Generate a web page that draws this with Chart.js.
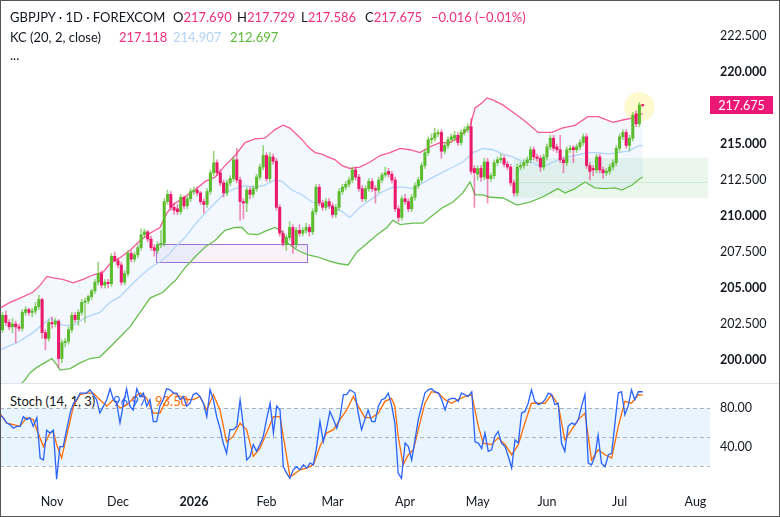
<!DOCTYPE html>
<html>
<head>
<meta charset="utf-8">
<title>GBPJPY 1D</title>
<script src="https://cdn.jsdelivr.net/npm/chart.js@4.4.1/dist/chart.umd.min.js"></script>
<style>
  body { margin:0; background:#fff; font-family: Lato, "Open Sans", sans-serif; }
  #wrap { position:relative; width:780px; height:517px; overflow:hidden; background:#fff; }
  #pc { position:absolute; left:0; top:0; }
  #sc { position:absolute; left:0; top:384px; }
  .row { position:absolute; left:0; height:16px; font-size:13px; line-height:16px; color:#131722; white-space:nowrap; }
  .row span.t { position:absolute; top:0; }
  .pk { color:#ef2f7f; }
  .lb { color:#b3d3f8; }
  .gr { color:#5cb83a; }
  .bl { color:#2962ff; }
  .or { color:#ff6d00; }
  #divider { position:absolute; left:0; top:383px; width:780px; height:1px; background:#e0e3eb; }
  #frame { position:absolute; left:0; top:0; width:778px; height:515px; border:1px solid #555; pointer-events:none; }
</style>
</head>
<body>
<div id="wrap">
  <!-- stoch legend sits under the canvas, so the lines cross over it -->
  <div class="row" style="top:393px">
    <span class="t" style="left:10px">Stoch (14, 1, 3)</span>
    <span class="t bl" style="left:113px">96.97</span>
    <span class="t or" style="left:155px">93.50</span>
  </div>
  <canvas id="pc" width="780" height="383"></canvas>
  <div id="divider"></div>
  <canvas id="sc" width="780" height="133"></canvas>

  <div class="row" style="top:9px">
    <span class="t" style="left:10px">GBPJPY · 1D · FOREXCOM</span>
    <span class="t" style="left:173px">O<span class="pk">217.690</span></span>
    <span class="t" style="left:237px">H<span class="pk">217.729</span></span>
    <span class="t" style="left:301px">L<span class="pk">217.586</span></span>
    <span class="t" style="left:365px">C<span class="pk">217.675</span></span>
    <span class="t pk" style="left:431px">−0.016 (−0.01%)</span>
  </div>
  <div class="row" style="top:29px">
    <span class="t" style="left:10px">KC (20, 2, close)</span>
    <span class="t pk" style="left:119px">217.118</span>
    <span class="t lb" style="left:173px">214.907</span>
    <span class="t gr" style="left:230px">212.697</span>
  </div>
  <div class="row" style="top:47px">
    <span class="t" style="left:10px">...</span>
  </div>
  <div id="frame"></div>
</div>

<script>
// daily candles, bar 0 = 13 Oct 2025
var opens = [
  202.1,203.1,202.6,202.3,202.5,202.3,202.2,203.3,203.5,203.3,
  203.4,203.7,204.2,201.9,201.5,202.6,202.5,202.7,200.1,201.2,
  201.3,202.1,203.1,202.8,203.3,204.0,204.1,204.4,204.8,205.4,
  206.0,205.2,205.4,205.3,207.2,206.9,206.6,205.4,206.0,207.4,
  207.0,207.3,207.8,208.7,208.9,208.4,207.8,207.6,208.0,208.1,
  211.0,211.5,210.6,210.5,210.3,211.3,210.7,211.2,211.7,211.8,
  211.6,211.0,210.8,211.7,213.0,213.7,213.0,212.3,211.6,212.3,
  212.6,213.9,212.5,211.0,210.9,211.8,211.5,211.9,212.7,213.4,
  214.2,212.6,214.1,213.8,210.6,208.8,208.0,208.5,209.2,208.0,
  209.0,208.8,209.0,209.2,208.9,210.3,212.0,210.9,210.6,211.0,
  210.7,210.1,210.6,211.7,212.0,212.2,212.5,213.2,212.7,211.9,
  211.2,211.9,212.4,211.9,211.8,212.5,212.85,213.1,212.9,212.5,
  210.5,209.9,211.2,211.0,210.5,211.3,212.1,212.5,213.5,214.4,
  215.3,215.4,215.7,215.8,214.5,214.9,215.3,215.4,215.6,215.1,
  215.8,216.0,216.2,213.3,212.9,213.3,212.7,213.75,212.6,212.8,
  213.7,213.9,214.0,213.6,213.4,212.3,211.6,213.4,213.5,213.7,
  213.9,214.6,214.1,214.0,213.4,214.1,214.8,215.4,214.8,214.6,
  213.9,213.7,214.6,214.75,214.6,214.8,215.1,215.5,213.5,213.3,
  213.2,214.1,213.2,213.0,213.1,213.4,213.7,214.7,215.5,215.8,
  214.9,215.4,217.1,216.4,217.69
];
var highs = [
  203.3,203.4,202.8,202.9,202.7,202.5,203.5,203.7,203.6,203.6,
  204.0,204.5,204.3,202.1,202.8,203.0,202.9,202.8,201.4,201.5,
  202.3,203.3,203.3,203.5,204.2,204.3,204.5,204.9,205.6,206.8,
  206.2,205.6,205.6,207.4,207.5,207.1,206.8,206.2,207.6,207.6,
  207.5,208.0,209.1,209.1,209.0,208.6,208.0,208.2,209.0,211.2,
  211.8,211.7,210.9,210.8,211.5,211.4,211.4,211.9,212.0,212.0,
  211.7,211.2,211.9,213.2,214.5,213.9,213.2,212.5,212.5,212.8,
  214.1,214.7,212.7,211.2,212.0,212.0,212.1,212.9,213.6,214.9,
  214.4,214.4,214.3,214.0,210.8,209.0,208.7,209.6,209.4,209.2,
  209.4,209.2,209.5,209.4,210.5,212.2,212.2,211.1,211.2,211.2,
  210.9,210.8,211.9,212.2,212.4,212.7,213.4,213.4,212.9,212.1,
  212.1,212.6,212.6,212.1,212.7,213.0,213.4,213.3,213.1,212.7,
  210.7,211.4,211.5,211.2,211.5,212.3,212.7,213.7,214.6,215.5,
  215.7,216.1,216.0,216.0,215.1,215.5,215.7,215.9,215.8,216.0,
  216.2,216.4,216.8,213.5,213.5,213.5,214.0,214.0,213.0,213.9,
  214.1,214.3,214.2,213.8,213.6,212.5,213.6,213.7,213.9,214.1,
  214.8,214.8,214.3,214.2,214.3,215.0,215.6,215.6,215.0,215.6,
  214.1,214.8,214.9,214.9,215.0,215.3,215.7,215.7,213.7,213.5,
  214.3,214.3,213.4,213.3,213.6,213.9,214.9,215.7,216.0,216.0,
  215.6,217.2,217.3,217.9,217.729
];
var lows = [
  201.9,202.4,202.1,201.9,201.2,202.0,202.0,203.1,203.1,203.0,
  203.2,203.5,201.5,200.7,201.3,202.2,202.3,199.5,199.8,200.9,
  201.1,201.9,202.6,202.4,203.1,202.6,203.9,204.2,204.6,205.2,
  205.0,205.0,205.0,205.1,206.8,206.4,205.2,205.2,205.8,206.8,
  206.8,207.1,207.6,208.5,208.2,207.6,207.2,207.4,207.8,207.9,
  210.8,210.4,210.1,210.1,210.1,210.5,210.5,211.0,211.5,211.4,
  210.8,210.2,210.6,211.5,212.8,212.8,212.1,211.3,211.4,212.1,
  212.4,212.3,209.7,209.8,210.3,211.2,211.3,211.7,212.5,213.2,
  212.4,212.4,213.6,210.4,208.6,207.9,207.6,208.3,207.4,207.8,
  208.6,208.6,208.8,208.6,208.7,210.1,210.7,210.4,210.4,210.5,
  209.9,209.9,210.4,211.5,211.8,212.0,212.3,212.5,211.7,211.0,
  211.0,211.7,211.7,210.9,211.6,212.3,212.7,212.7,212.3,210.3,
  209.6,209.7,210.8,210.3,210.3,211.1,211.9,212.3,213.3,214.2,
  215.0,215.2,215.5,214.0,214.3,214.7,215.1,215.2,214.9,214.9,
  215.6,215.8,212.9,210.6,212.5,212.4,212.5,210.9,212.4,212.6,
  213.5,213.7,213.4,213.2,212.1,211.4,211.4,213.2,213.3,213.5,
  213.7,213.9,213.8,213.1,213.2,213.9,214.6,214.5,214.4,213.7,
  213.0,213.5,214.4,213.7,214.4,214.6,214.9,213.3,212.5,212.8,
  213.0,213.0,212.6,212.8,212.9,213.2,213.5,214.5,215.3,214.7,
  214.5,215.2,216.2,216.2,217.586
];
var closes = [
  203.1,202.6,202.3,202.5,202.3,202.2,203.3,203.5,203.3,203.4,
  203.7,204.2,201.9,201.5,202.6,202.5,202.7,200.1,201.2,201.3,
  202.1,203.1,202.8,203.3,204.0,204.1,204.4,204.8,205.4,206.0,
  205.2,205.4,205.3,207.2,206.9,206.6,205.4,206.0,207.4,207.0,
  207.3,207.8,208.7,208.9,208.4,207.8,207.6,208.0,208.1,211.0,
  211.5,210.6,210.4,210.3,211.3,210.7,211.2,211.7,211.8,211.6,
  211.0,210.8,211.7,213.0,213.7,213.0,212.3,211.6,212.3,212.6,
  213.9,212.5,211.0,210.9,211.8,211.5,211.9,212.7,213.4,214.2,
  212.6,214.1,213.8,210.6,208.8,208.1,208.5,209.2,208.0,209.0,
  208.8,209.0,209.2,208.9,210.3,212.0,210.9,210.6,211.0,210.7,
  210.1,210.6,211.7,212.0,212.2,212.5,213.2,212.7,211.9,211.2,
  211.9,212.4,211.9,211.8,212.5,212.85,213.0,212.9,212.5,210.5,
  209.9,211.2,211.0,210.5,211.3,212.1,212.5,213.5,214.4,215.3,
  215.4,215.75,215.8,214.5,214.9,215.3,215.5,215.6,215.1,215.8,
  216.0,216.2,213.1,213.0,213.3,212.7,213.75,212.6,212.8,213.7,
  213.9,214.0,213.6,213.4,212.3,211.6,213.4,213.5,213.7,213.9,
  214.6,214.1,214.0,213.4,214.1,214.8,215.4,214.7,214.6,213.9,
  213.7,214.6,214.7,214.6,214.8,215.1,215.5,213.5,213.1,213.2,
  214.1,213.2,213.0,213.1,213.4,213.7,214.7,215.5,215.8,214.9,
  215.4,217.0,216.4,217.7,217.675
];

// Keltner channel (20, 2, close) as [bar, value]
var kcUpper = [
  [-0.8,203.6],[2.3,204.0],[5.3,204.3],[9.2,204.7],[11.4,205.2],[13.5,205.8],[15.3,205.7],
  [18.3,205.6],[21.4,205.35],[24.4,205.6],[27.4,205.9],[30.5,206.1],[32.6,206.7],[35.6,207.1],
  [38.6,207.6],[41.7,208.3],[44.7,208.8],[47.7,209.2],[49.8,210.2],[51.7,210.8],[53.8,211.1],
  [58.3,211.8],[61.4,212.4],[64.4,212.7],[67.4,213.5],[70.5,214.2],[73.5,215.1],[76.5,215.35],
  [79.5,215.4],[82.6,216.0],[85.0,216.3],[87.1,216.1],[90.8,215.3],[92.6,214.8],[94.7,214.4],
  [96.8,214.3],[98.6,214.1],[100.8,213.9],[102.9,213.5],[105.3,213.3],[108.3,213.4],[111.4,213.75],
  [114.4,214.2],[117.4,214.4],[120.5,214.7],[123.5,214.6],[126.5,214.4],[129.5,214.8],[132.6,215.1],
  [135.6,215.1],[138.6,215.5],[141.7,216.2],[143.2,217.5],[145.3,217.85],[146.8,218.2],[148.6,218.06],
  [151.7,217.7],[154.7,217.2],[157.7,216.7],[159.8,216.3],[162.3,215.8],[166.5,215.8],[169.5,216.1],
  [173.5,216.3],[177.4,216.9],[180.5,216.9],[185.0,216.5],[188.6,216.7],[190.8,216.8],[194,217.118]
];
var kcBasis = [
  [-0.8,200.7],[4.4,201.2],[9.2,201.9],[14.4,202.9],[18.3,202.4],[21.4,202.4],[25.6,203.0],
  [29.5,203.3],[32.6,204.0],[35.6,204.4],[38.6,205.1],[41.7,205.8],[44.7,206.4],[47.7,206.8],
  [50.8,207.4],[52.3,207.85],[55.3,208.5],[58.3,209.4],[61.4,210.2],[64.4,210.9],[67.4,211.6],
  [70.5,211.9],[73.5,212.1],[76.5,212.0],[79.5,212.15],[82.6,212.5],[84.7,212.4],[87.7,211.8],
  [90.8,211.46],[93.8,210.97],[96.8,210.76],[99.8,210.6],[102.9,210.3],[105.3,209.9],[108.3,210.6],
  [112.3,211.25],[115.3,211.7],[118.3,212.0],[121.4,212.0],[124.4,211.9],[127.4,212.3],[130.5,212.7],
  [133.5,213.05],[136.5,213.4],[139.5,213.75],[142.6,214.4],[145.6,214.7],[148.6,214.6],[151.7,214.3],
  [154.7,214.1],[157.7,213.75],[160.5,213.7],[163.5,213.4],[166.5,213.7],[169.5,214.0],[173.5,214.2],
  [177.4,214.4],[180.5,214.4],[183.5,214.3],[186.5,214.4],[189.5,214.5],[192.6,214.85],[194,214.907]
];
var kcLower = [
  [-0.8,197.6],[3.5,197.9],[6.8,198.6],[8.3,199.1],[10.5,199.5],[13.5,199.9],[15.0,200.1],
  [16.5,199.65],[17.4,199.3],[20.5,199.4],[23.5,199.8],[26.5,200.1],[29.5,200.2],[32.6,200.9],
  [35.6,201.6],[38.6,202.3],[41.7,203.3],[44.7,204.3],[48.6,204.7],[51.7,205.4],[52.3,205.5],
  [55.3,206.4],[58.3,207.15],[61.4,207.85],[64.4,208.3],[67.4,209.0],[70.5,209.2],[72.6,209.2],
  [74.4,208.75],[77.4,208.7],[80.2,209.0],[82.6,209.2],[84.7,208.9],[86.5,208.1],[89.5,207.6],
  [92.6,207.3],[95.6,207.15],[98.6,206.9],[101.7,206.7],[104.7,206.6],[105.3,206.8],[107.4,207.5],
  [110.5,208.1],[113.5,208.7],[116.5,209.2],[118.3,209.7],[120.5,209.4],[124.4,209.5],[127.4,209.5],
  [130.5,210.07],[133.5,210.6],[136.5,210.97],[139.5,211.6],[141.7,212.36],[143.2,211.46],[145.6,211.46],
  [147.7,211.3],[151.7,211.25],[155.9,210.76],[159.8,210.97],[163.5,211.3],[168.3,211.9],[170.5,211.6],
  [173.5,211.9],[176.5,212.36],[179.5,211.95],[182.6,211.9],[185.6,211.95],[187.7,211.8],[190.8,212.15],
  [193.2,212.6],[194,212.697]
];

// Stoch (14, 1, 3): %K and %D as [bar, value]
var stochK = [
  [-0.8,73],[0.3,69.6],[1.3,64.4],[2.3,62.7],[3.3,59],[4.3,61],[5.3,61],[6.3,71],[7.3,68],[8.3,70],
  [9.3,61],[10.4,70],[11.4,28],[12.4,26],[13.4,57],[14.4,54],[15.4,57],[16.4,6],[17.4,40],[18.4,40],
  [19.4,57],[20.5,75],[21.5,85],[22.5,88.7],[23.5,95.6],[24.5,95.6],[25.5,95.6],[26.5,99],[27.5,94],[28.5,88.7],
  [29.5,75],[30.6,82],[31.6,88.7],[32.6,100],[33.6,88.7],[34.6,85],[35.6,64.4],[36.6,83],[37.6,100],[38.6,82],
  [39.6,78],[40.7,100],[41.7,92],[42.7,95.6],[43.7,82],[44.7,88.7],[45.7,66],[46.7,66],[47.7,82],[48.7,88.7],
  [49.7,100],[50.8,99],[51.8,95.6],[52.8,95.6],[53.8,88.7],[54.8,92],[55.8,82],[56.8,85],[57.8,94],[58.8,95.6],
  [59.8,92],[60.9,85],[61.9,71],[62.9,99],[63.9,88.7],[64.9,71],[65.9,59],[66.9,43.6],[67.9,33],[68.9,57.5],
  [69.9,57.5],[71.0,61],[72.0,88.7],[73.0,61],[74.0,26],[75.0,29.7],[76.0,42],[77.0,35],[78.0,42],[79.0,50],
  [80.0,68],[81.1,85],[82.1,54],[83.1,82],[84.1,78],[85.1,19],[86.1,12.4],[87.1,7],[88.1,15.8],[89.1,19],
  [90.1,15.8],[91.2,21],[92.2,17.6],[93.2,22.8],[94.2,21],[95.2,40],[96.2,66],[97.2,45],[98.2,59],[99.2,76.5],
  [100.3,68],[101.3,59],[102.3,71],[103.3,94],[104.3,94],[105.3,99],[106.8,95.6],[107.8,74.8],[108.8,57.5],[109.8,68],
  [110.8,78],[111.9,66],[112.9,66],[113.9,82],[114.9,88.7],[115.9,90],[116.9,95.6],[117.9,83],[118.9,64.4],[119.9,12.4],
  [120.9,7],[122.0,43.6],[123.0,40],[124.0,26],[125.0,47],[126.0,68],[127.0,82],[128.0,95.6],[129.0,99],[130.0,100],
  [131.0,97],[132.1,95.6],[133.1,88.7],[134.1,78],[135.1,88.7],[136.1,90],[137.1,90],[138.1,87],[139.1,95.6],[140.1,94],
  [141.1,92],[142.2,97],[143.2,45],[144.2,43.6],[145.2,38],[146.2,54],[147.2,35],[148.2,36.6],[149.2,50.5],[150.2,55.7],
  [151.2,43.6],[152.3,40],[153.3,29.7],[154.3,17.6],[155.3,47],[156.3,43.6],[157.3,74.8],[158.3,76.5],[159.3,85],[160.3,99],
  [161.3,87],[162.4,83.5],[163.4,85],[164.4,88.7],[165.4,95.6],[166.4,94],[167.4,83.5],[168.4,85],[169.4,43.6],[170.4,35],
  [171.4,61],[172.5,64.4],[173.5,62.7],[174.5,68],[175.5,82],[176.5,94],[177.5,22.8],[178.5,21],[179.5,29.7],[180.5,52],
  [181.5,22.8],[182.6,19],[183.6,31.5],[184.6,33],[185.6,64.4],[186.6,95.6],[187.6,97],[188.6,73],[189.6,82],[190.6,99],
  [191.6,88.7],[192.7,97],[194,96.97]
];
var stochD = [
  [-0.8,74.8],[1.3,64.4],[3.3,62.7],[5.3,61],[7.3,70],[9.3,68],[10.4,57.5],[12.4,40],[14.4,54],[15.4,55.7],
  [16.4,42],[17.9,28],[19.4,50.5],[21.5,82],[23.5,94],[25.5,95.6],[27.5,95.6],[29.5,88.7],[31.6,82],[33.6,88.7],
  [35.6,80],[37.6,83],[39.6,90],[41.7,95.6],[43.7,90],[45.7,74.8],[47.7,74.8],[49.7,88.7],[51.8,95.6],[53.8,92],
  [55.8,88.7],[57.8,88.7],[59.8,92],[61.9,78],[63.9,94],[65.9,78],[67.9,45],[69.9,50.5],[72.0,64.4],[74.0,57.5],
  [76.0,29.7],[78.0,38],[80.0,54],[82.1,71],[84.1,71],[86.1,29.7],[87.1,8.9],[88.1,10.6],[90.1,15.8],[92.2,17.6],
  [94.2,21],[96.2,40],[98.2,54],[100.3,57.5],[102.3,68],[104.3,78],[106.3,92],[107.8,82],[109.8,70],[111.9,70],
  [113.9,74.8],[115.9,87],[117.9,90],[118.9,82],[119.9,50.5],[121.4,21],[123.0,31.5],[124.5,36.6],[126.0,57.5],[128.0,85],
  [130.0,97],[132.1,95.6],[134.1,88.7],[136.1,85],[138.1,88.7],[140.1,92],[142.2,94],[144.2,61],[145.7,43.6],[148.2,42],
  [150.2,49],[152.3,42],[154.3,31.5],[156.3,42],[158.3,64.4],[160.3,85],[162.4,85],[164.4,85],[166.4,94],[168.4,83.5],
  [170.4,47],[172.5,57.5],[174.5,68],[176.5,74.8],[178.5,26],[180.5,36.6],[182.6,31.5],[184.6,28],[186.6,61],[188.6,87],
  [190.6,85],[192.7,94],[194,93.5]
];

// time axis: first trading day of each month, as bar index
var monthIdx    = [15, 35, 58, 80, 100, 122, 144, 165, 187, 210];
var monthLabels = ['Nov', 'Dec', '2026', 'Feb', 'Mar', 'Apr', 'May', 'Jun', 'Jul', 'Aug'];
var priceTicks  = [200, 202.5, 205, 207.5, 210, 212.5, 215, 220, 222.5];
var stochTicks  = [40, 80];

// drawings on the chart, in price / bar units
var boxPurple = { x0: 46.5, x1: 92.3, top: 208.03, bottom: 206.78 };
var boxGreen  = { x0: 154.7, x1: 213.8, top: 214.03, bottom: 211.25, mid: 212.36 };
var markBar = 193, markPrice = 217.57;
var lastClose = 217.675;

var X_MIN = -0.76, X_MAX = 214.4;
var UP = '#5cbc2e', DOWN = '#e91a6c';
var UP_WICK = 'rgba(92,188,46,0.6)', DOWN_WICK = 'rgba(233,26,108,0.5)';
var FONT = 'Lato, "Open Sans", sans-serif';
var TXT = '#131722';

Chart.defaults.font.family = FONT;

function toXY(list) {
  return list.map(function (p) { return { x: p[0], y: p[1] }; });
}
function candleColor(c, up, down) {
  var i = c.dataIndex;
  return closes[i] >= opens[i] ? up : down;
}
// keep the plot area flush with the canvas edges (no label overhang padding)
function noOverhang(axis) {
  axis.paddingTop = 0; axis.paddingBottom = 0;
  axis.paddingLeft = 0; axis.paddingRight = 0;
}

var priceDrawings = {
  id: 'priceDrawings',
  beforeDatasetsDraw: function (chart) {
    var ctx = chart.ctx, xs = chart.scales.x, ys = chart.scales.y, a = chart.chartArea;
    ctx.save();
    ctx.beginPath();
    ctx.rect(a.left, a.top, a.right - a.left, a.bottom - a.top);
    ctx.clip();

    // green zone
    var gx0 = xs.getPixelForValue(boxGreen.x0), gx1 = xs.getPixelForValue(boxGreen.x1);
    var gy0 = ys.getPixelForValue(boxGreen.top), gy1 = ys.getPixelForValue(boxGreen.bottom);
    ctx.fillStyle = 'rgba(76,175,80,0.11)';
    ctx.fillRect(gx0, gy0, gx1 - gx0, gy1 - gy0);
    var gm = Math.round(ys.getPixelForValue(boxGreen.mid)) + 0.5;
    ctx.strokeStyle = 'rgba(76,175,80,0.18)';
    ctx.lineWidth = 1;
    ctx.beginPath(); ctx.moveTo(gx0, gm); ctx.lineTo(gx1, gm); ctx.stroke();

    // purple box
    var px0 = Math.round(xs.getPixelForValue(boxPurple.x0)) + 0.5;
    var px1 = Math.round(xs.getPixelForValue(boxPurple.x1)) + 0.5;
    var py0 = Math.round(ys.getPixelForValue(boxPurple.top)) + 0.5;
    var py1 = Math.round(ys.getPixelForValue(boxPurple.bottom)) + 0.5;
    ctx.fillStyle = 'rgba(156,39,176,0.06)';
    ctx.fillRect(px0, py0, px1 - px0, py1 - py0);
    ctx.strokeStyle = 'rgba(150,90,210,0.85)';
    ctx.strokeRect(px0, py0, px1 - px0, py1 - py0);

    // highlight circle on the last bars
    ctx.fillStyle = 'rgba(255,235,59,0.25)';
    ctx.beginPath();
    ctx.arc(xs.getPixelForValue(markBar), ys.getPixelForValue(markPrice), 15, 0, Math.PI * 2);
    ctx.fill();
    ctx.restore();
  },
  afterDraw: function (chart) {
    var ctx = chart.ctx, ys = chart.scales.y, a = chart.chartArea;
    var y = ys.getPixelForValue(lastClose);
    ctx.save();
    ctx.fillStyle = '#ec1776';
    ctx.fillRect(a.right, Math.round(y) - 9, 63, 18);
    ctx.fillStyle = '#fff';
    ctx.font = '12.5px ' + FONT;
    ctx.textAlign = 'center';
    ctx.textBaseline = 'middle';
    ctx.fillText(lastClose.toFixed(3), a.right + 31.5, Math.round(y) + 0.5);
    ctx.restore();
  }
};

var stochBands = {
  id: 'stochBands',
  beforeDatasetsDraw: function (chart) {
    var ctx = chart.ctx, ys = chart.scales.y, a = chart.chartArea;
    var y80 = ys.getPixelForValue(80), y50 = ys.getPixelForValue(50), y20 = ys.getPixelForValue(20);
    ctx.save();
    ctx.fillStyle = 'rgba(33,150,243,0.1)';
    ctx.fillRect(a.left, y80, a.right - a.left, y20 - y80);
    ctx.strokeStyle = 'rgba(120,123,134,0.55)';
    ctx.lineWidth = 1;
    ctx.setLineDash([4, 3]);
    [y80, y50, y20].forEach(function (y) {
      var yy = Math.round(y) + 0.5;
      ctx.beginPath(); ctx.moveTo(a.left, yy); ctx.lineTo(a.right, yy); ctx.stroke();
    });
    ctx.restore();
  }
};

var candleIdx = closes.map(function (c, i) { return i; });

new Chart(document.getElementById('pc'), {
  type: 'bar',
  data: {
    datasets: [
      { type: 'line', label: 'KC upper', data: toXY(kcUpper), borderColor: '#f75b95', borderWidth: 1.3,
        pointRadius: 0, fill: '+2', backgroundColor: 'rgba(33,140,243,0.06)', order: 3 },
      { type: 'line', label: 'KC basis', data: toXY(kcBasis), borderColor: '#bcd9fb', borderWidth: 1.3,
        pointRadius: 0, fill: false, order: 3 },
      { type: 'line', label: 'KC lower', data: toXY(kcLower), borderColor: '#6cc04a', borderWidth: 1.3,
        pointRadius: 0, fill: false, order: 3 },
      { label: 'wicks', data: candleIdx.map(function (i) { return { x: i, y: [lows[i], highs[i]] }; }),
        backgroundColor: function (c) { return candleColor(c, UP_WICK, DOWN_WICK); },
        barThickness: 1, grouped: false, order: 2 },
      { label: 'bodies', data: candleIdx.map(function (i) { return { x: i, y: [opens[i], closes[i]] }; }),
        backgroundColor: function (c) { return candleColor(c, UP, DOWN); },
        barThickness: 2.4, minBarLength: 1, grouped: false, order: 1 }
    ]
  },
  options: {
    responsive: false,
    animation: false,
    events: [],
    layout: { padding: 0 },
    plugins: { legend: { display: false }, tooltip: { enabled: false } },
    scales: {
      x: { type: 'linear', min: X_MIN, max: X_MAX, display: false, offset: false },
      y: {
        position: 'right', min: 198.4, max: 225.0,
        grid: { display: false, drawTicks: false },
        border: { display: false },
        afterBuildTicks: function (axis) { axis.ticks = priceTicks.map(function (v) { return { value: v }; }); },
        afterFit: function (axis) { axis.width = 70; noOverhang(axis); },
        ticks: {
          padding: 10, color: TXT,
          font: function (c) { return { size: 12.5, weight: (c.tick && c.tick.value % 5 === 0) ? 'bold' : 'normal' }; },
          callback: function (v) { return Number(v).toFixed(3); }
        }
      }
    }
  },
  plugins: [priceDrawings]
});

new Chart(document.getElementById('sc'), {
  type: 'line',
  data: {
    datasets: [
      { label: '%K', data: toXY(stochK), borderColor: '#2962ff', borderWidth: 1.3, pointRadius: 0, fill: false },
      { label: '%D', data: toXY(stochD), borderColor: '#ff6d00', borderWidth: 1.3, pointRadius: 0, fill: false }
    ]
  },
  options: {
    responsive: false,
    animation: false,
    events: [],
    layout: { padding: 0 },
    plugins: { legend: { display: false }, tooltip: { enabled: false } },
    scales: {
      x: {
        type: 'linear', min: X_MIN, max: X_MAX, offset: false,
        grid: { display: false, drawTicks: false },
        border: { display: false },
        afterBuildTicks: function (axis) { axis.ticks = monthIdx.map(function (v) { return { value: v }; }); },
        afterFit: function (axis) { axis.height = 31; noOverhang(axis); },
        ticks: {
          padding: 8, color: TXT, autoSkip: false, maxRotation: 0,
          font: function (c) { return { size: 12.5, weight: (c.tick && c.tick.value === 58) ? 'bold' : 'normal' }; },
          callback: function (v) { return monthLabels[monthIdx.indexOf(v)]; }
        }
      },
      y: {
        position: 'right', min: -1, max: 105,
        grid: { display: false, drawTicks: false },
        border: { display: false },
        afterBuildTicks: function (axis) { axis.ticks = stochTicks.map(function (v) { return { value: v }; }); },
        afterFit: function (axis) { axis.width = 70; noOverhang(axis); },
        ticks: {
          padding: 10, color: TXT, font: { size: 12.5 },
          callback: function (v) { return Number(v).toFixed(2); }
        }
      }
    }
  },
  plugins: [stochBands]
});
</script>
</body>
</html>
